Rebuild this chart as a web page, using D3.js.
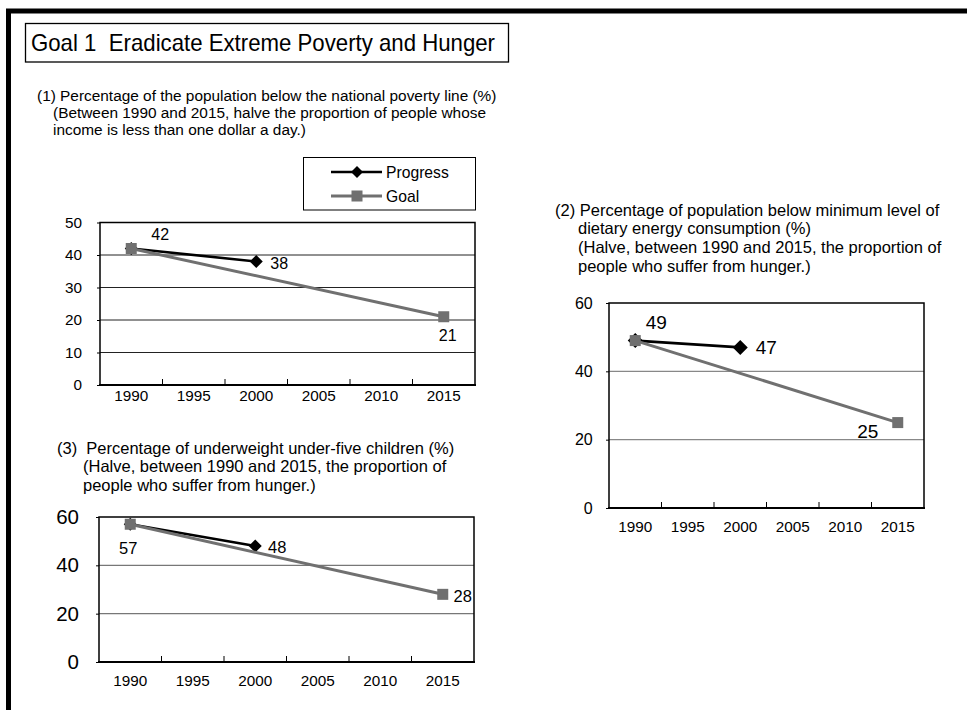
<!DOCTYPE html>
<html>
<head>
<meta charset="utf-8">
<script src="https://cdn.jsdelivr.net/npm/d3@7"></script>
<style>
  html, body { margin: 0; padding: 0; background: #fff; }
  svg { display: block; font-family: "Liberation Sans", Arial, sans-serif; }
</style>
</head>
<body>
<svg id="page" width="967" height="710"></svg>
<script>
// Category axis shared by all three indicators
const years = ["1990", "1995", "2000", "2005", "2010", "2015"];

// (1) Population below the national poverty line (%)
const progressYears1 = ["1990", "2000"];
const progressValues1 = [42, 38];
const goalYears1 = ["1990", "2015"];
const goalValues1 = [42, 21];
const yTicks1 = [0, 10, 20, 30, 40, 50];

// (2) Population below minimum dietary energy consumption (%)
const progressYears2 = ["1990", "2000"];
const progressValues2 = [49, 47];
const goalYears2 = ["1990", "2015"];
const goalValues2 = [49, 25];
const yTicks2 = [0, 20, 40, 60];

// (3) Underweight under-five children (%)
const progressYears3 = ["1990", "2000"];
const progressValues3 = [57, 48];
const goalYears3 = ["1990", "2015"];
const goalValues3 = [57, 28];
const yTicks3 = [0, 20, 40, 60];

const seriesNames = ["Progress", "Goal"];

const svg = d3.select("#page");
const PROGRESS_COLOR = "#000";
const GOAL_COLOR = "#707070";
const FONT = "Liberation Sans, Arial, sans-serif";

// Page frame (left and top rules)
svg.append("path")
  .attr("d", "M8.5,710 V11 H967")
  .attr("fill", "none").attr("stroke", "#000").attr("stroke-width", 5);

// Heading box
svg.append("rect")
  .attr("x", 25.5).attr("y", 23.5).attr("width", 483).attr("height", 38.5)
  .attr("fill", "#fff").attr("stroke", "#000").attr("stroke-width", 1.3);
svg.append("text")
  .attr("x", 31).attr("y", 51.3)
  .attr("font-size", 24).attr("fill", "#000")
  .attr("textLength", 464).attr("lengthAdjust", "spacingAndGlyphs")
  .attr("xml:space", "preserve")
  .text("Goal 1  Eradicate Extreme Poverty and Hunger");

function caption(x, y, lines, indent, lh, size) {
  const t = svg.append("text").attr("font-size", size).attr("fill", "#000");
  lines.forEach((s, i) => {
    t.append("tspan")
      .attr("x", i === 0 ? x : x + indent)
      .attr("y", y + i * lh)
      .attr("xml:space", "preserve")
      .text(s);
  });
}

caption(37, 100.5, [
  "(1) Percentage of the population below the national poverty line (%)",
  "(Between 1990 and 2015, halve the proportion of people whose",
  "income is less than one dollar a day.)"
], 16, 17, 15.4);

caption(555, 215.5, [
  "(2) Percentage of population below minimum level of",
  "dietary energy consumption (%)",
  "(Halve, between 1990 and 2015, the proportion of",
  "people who suffer from hunger.)"
], 23, 18.7, 16.5);

caption(57, 453.5, [
  "(3)  Percentage of underweight under-five children (%)",
  "(Halve, between 1990 and 2015, the proportion of",
  "people who suffer from hunger.)"
], 26, 18.5, 16.5);

function diamond(g, cx, cy, r) {
  g.append("path")
    .attr("d", `M${cx},${cy - r} L${cx + r},${cy} L${cx},${cy + r} L${cx - r},${cy} Z`)
    .attr("fill", PROGRESS_COLOR);
}
function square(g, cx, cy, s) {
  g.append("rect")
    .attr("x", cx - s / 2).attr("y", cy - s / 2)
    .attr("width", s).attr("height", s)
    .attr("fill", GOAL_COLOR);
}

function lineChart(o) {
  const g = svg.append("g");
  const x = d3.scaleBand().domain(years).range([o.left, o.right]).padding(0);
  const y = d3.scaleLinear().domain([0, o.yMax]).range([o.bottom, o.top]);
  const cx = d => x(d) + x.bandwidth() / 2;

  // horizontal gridlines
  g.selectAll("line.grid")
    .data(o.yTicks.filter(v => v > 0 && v < o.yMax))
    .join("line")
    .attr("x1", o.left).attr("x2", o.right)
    .attr("y1", d => y(d)).attr("y2", d => y(d))
    .attr("stroke", o.gridColor).attr("stroke-width", o.gridWidth);

  // plot frame
  g.append("rect")
    .attr("x", o.left).attr("y", y(o.yMax))
    .attr("width", o.right - o.left).attr("height", o.bottom - y(o.yMax))
    .attr("fill", "none").attr("stroke", "#000").attr("stroke-width", 1.5);

  // y axis: short outward ticks and labels
  const yAxis = d3.axisLeft(y).tickValues(o.yTicks).tickSize(3).tickPadding(o.yPad)
    .tickFormat(d3.format("d"));
  const ya = g.append("g").attr("transform", `translate(${o.left},0)`).call(yAxis);
  ya.select(".domain").remove();
  ya.selectAll("line").attr("stroke", "#000");
  ya.selectAll("text").attr("font-size", o.yFont).attr("fill", "#000")
    .attr("font-family", FONT);

  // x axis: category labels centred in bands
  const xAxis = d3.axisBottom(x).tickSize(0).tickPadding(o.xPad);
  const xa = g.append("g").attr("transform", `translate(0,${o.bottom})`).call(xAxis);
  xa.select(".domain").remove();
  xa.selectAll("text").attr("font-size", 15.3).attr("fill", "#000")
    .attr("font-family", FONT);

  // inward tick marks at the band boundaries
  g.selectAll("line.xtick")
    .data(years.slice(1))
    .join("line")
    .attr("x1", d => x(d)).attr("x2", d => x(d))
    .attr("y1", o.bottom).attr("y2", o.bottom - 6)
    .attr("stroke", "#000").attr("stroke-width", 1);

  // bottom axis line
  g.append("line")
    .attr("x1", o.left - 1).attr("x2", o.right + 1)
    .attr("y1", o.bottom).attr("y2", o.bottom)
    .attr("stroke", "#000").attr("stroke-width", 2);

  const line = d3.line().x(d => cx(d[0])).y(d => y(d[1]));
  const prog = o.progYears.map((yr, i) => [yr, o.progVals[i]]);
  const goal = o.goalYears.map((yr, i) => [yr, o.goalVals[i]]);

  g.append("path").datum(prog).attr("d", line)
    .attr("fill", "none").attr("stroke", PROGRESS_COLOR).attr("stroke-width", 2.6);
  prog.forEach(d => diamond(g, cx(d[0]), y(d[1]), o.dSize));

  g.append("path").datum(goal).attr("d", line)
    .attr("fill", "none").attr("stroke", GOAL_COLOR).attr("stroke-width", 3);
  goal.forEach(d => square(g, cx(d[0]), y(d[1]), 11));

  // value labels
  const labels = [
    [prog[0], o.off[0]],
    [prog[1], o.off[1]],
    [goal[1], o.off[2]]
  ];
  labels.forEach(([d, off]) => {
    g.append("text")
      .attr("x", cx(d[0]) + off[0])
      .attr("y", y(d[1]) + off[1])
      .attr("text-anchor", "middle")
      .attr("dominant-baseline", "central")
      .attr("font-size", o.labelFont).attr("fill", "#000")
      .text(d[1]);
  });
}

lineChart({
  left: 100, right: 475, top: 222.5, bottom: 385, yMax: 50, yTicks: yTicks1,
  progYears: progressYears1, progVals: progressValues1,
  goalYears: goalYears1, goalVals: goalValues1,
  gridColor: "#222", gridWidth: 1, yFont: 15.3, yPad: 15, xPad: 5.5, labelFont: 16, dSize: 6.5,
  off: [[29, -14], [23, 1.5], [4, 18.5]]
});

lineChart({
  left: 609, right: 924, top: 303, bottom: 508, yMax: 60, yTicks: yTicks2,
  progYears: progressYears2, progVals: progressValues2,
  goalYears: goalYears2, goalVals: goalValues2,
  gridColor: "#888", gridWidth: 1.3, yFont: 16, yPad: 13.3, xPad: 13.5, labelFont: 19, dSize: 7.5,
  off: [[21, -18], [26, 0.5], [-30, 9]]
});

lineChart({
  left: 99, right: 474, top: 517, bottom: 662, yMax: 60, yTicks: yTicks3,
  progYears: progressYears3, progVals: progressValues3,
  goalYears: goalYears3, goalVals: goalValues3,
  gridColor: "#777", gridWidth: 1.3, yFont: 20.5, yPad: 17, xPad: 13.5, labelFont: 16.5, dSize: 6.5,
  off: [[-2, 24], [22, 1], [20, 2]]
});

// Legend for the first indicator
const lg = svg.append("g");
lg.append("rect")
  .attr("x", 303.5).attr("y", 157.5).attr("width", 172).attr("height", 52.5)
  .attr("fill", "#fff").attr("stroke", "#000").attr("stroke-width", 1);
const legendRows = [
  { name: seriesNames[0], color: PROGRESS_COLOR, y: 172, mark: "d" },
  { name: seriesNames[1], color: GOAL_COLOR, y: 196, mark: "s" }
];
legendRows.forEach(r => {
  lg.append("line").attr("x1", 331).attr("x2", 382).attr("y1", r.y).attr("y2", r.y)
    .attr("stroke", r.color).attr("stroke-width", r.mark === "d" ? 2.6 : 3);
  if (r.mark === "d") diamond(lg, 357, r.y, 6); else square(lg, 357, r.y, 11);
  lg.append("text").attr("x", 386).attr("y", r.y).attr("dominant-baseline", "central")
    .attr("font-size", 15.7).attr("fill", "#000").text(r.name);
});
</script>
</body>
</html>
